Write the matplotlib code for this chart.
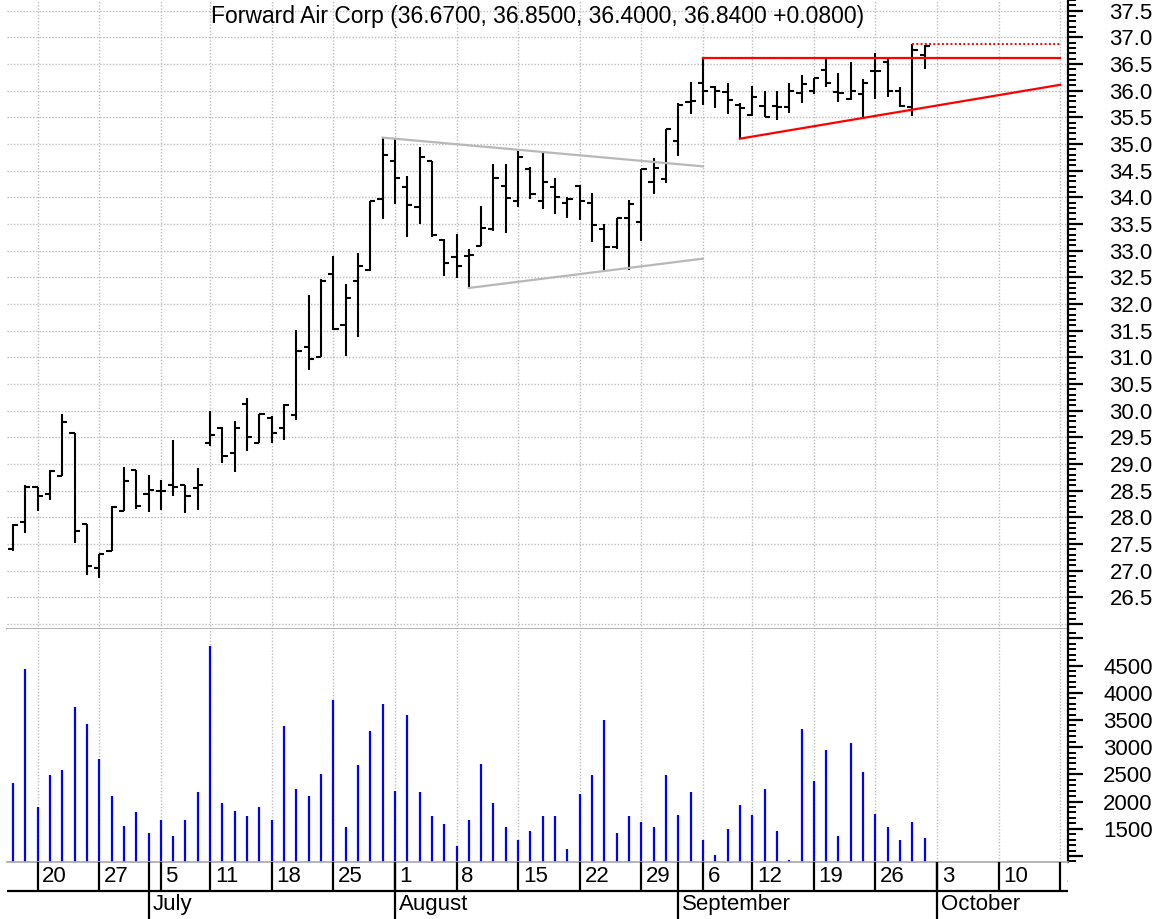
import matplotlib
matplotlib.use('Agg')
import matplotlib.pyplot as plt
import numpy as np
import pandas as pd
from matplotlib.ticker import MultipleLocator

plt.rcParams['font.family'] = ['Liberation Sans', 'DejaVu Sans']

# trading days, Jun 16 2005 .. Oct 21 2005 (no bars after Sep 30)
days = pd.bdate_range('2005-06-16', '2005-10-21', freq='C',
                      holidays=['2005-07-04', '2005-09-05'])

opens = [27.40, 27.91, 28.56, 28.43, 28.77, 29.58, 27.88, 27.05, 27.37, 28.11,
         28.89, 28.43, 28.50, 28.60, 28.60, 28.55, 29.40, 29.68, 29.20, 30.13,
         29.40, 29.86, 29.67, 29.92, 31.19, 31.00, 32.57, 31.60, 32.43, 32.64,
         33.97, 34.69, 34.20, 33.82, 34.69, 33.20, 32.89, 32.90, 33.09, 33.40,
         34.22, 33.93, 34.54, 33.93, 34.20, 33.90, 34.22, 33.89, 33.41, 33.06,
         33.61, 33.54, 34.28, 34.34, 35.06, 35.78, 36.14, 36.07, 35.97, 35.74,
         35.54, 35.72, 35.71, 35.70, 35.96, 36.00, 36.38, 35.98, 35.84, 35.94,
         36.36, 36.54, 35.99, 35.70, 36.67]
highs = [27.87, 28.60, 28.57, 28.88, 29.93, 29.58, 27.88, 27.31, 28.21, 28.95,
         28.89, 28.79, 28.69, 29.44, 28.60, 28.93, 29.99, 29.70, 29.81, 30.23,
         29.94, 29.89, 30.13, 31.51, 32.16, 32.46, 32.90, 32.37, 32.96, 33.93,
         35.14, 35.10, 34.40, 34.94, 34.69, 33.21, 33.31, 33.03, 33.83, 34.62,
         34.62, 34.87, 34.56, 34.84, 34.37, 34.00, 34.23, 34.09, 33.50, 33.62,
         33.95, 34.54, 34.73, 35.28, 35.76, 36.17, 36.61, 36.09, 36.14, 35.76,
         36.09, 35.99, 35.99, 36.14, 36.30, 36.24, 36.64, 36.33, 36.53, 36.22,
         36.71, 36.59, 36.07, 36.87, 36.85]
lows = [27.37, 27.71, 28.12, 28.33, 28.77, 27.52, 26.92, 26.87, 27.37, 28.11,
        28.16, 28.09, 28.14, 28.39, 28.08, 28.14, 29.33, 29.02, 28.85, 29.25,
        29.39, 29.39, 29.45, 29.83, 30.77, 31.00, 31.51, 31.03, 31.38, 32.62,
        33.60, 33.87, 33.26, 33.50, 33.26, 32.52, 32.49, 32.32, 33.09, 33.37,
        33.34, 33.81, 33.97, 33.78, 33.68, 33.61, 33.58, 33.16, 32.64, 33.03,
        32.64, 33.18, 34.06, 34.27, 34.78, 35.57, 35.74, 35.68, 35.57, 35.10,
        35.53, 35.51, 35.45, 35.58, 35.76, 35.94, 36.07, 35.78, 35.82, 35.50,
        35.84, 35.89, 35.70, 35.53, 36.40]
closes = [27.85, 28.56, 28.40, 28.87, 29.78, 27.75, 27.09, 27.31, 28.19, 28.68,
          28.22, 28.51, 28.50, 28.57, 28.40, 28.60, 29.55, 29.14, 29.67, 29.50,
          29.93, 29.58, 30.11, 31.11, 30.96, 32.43, 31.53, 32.12, 32.71, 33.93,
          34.79, 34.37, 33.85, 34.76, 33.29, 32.77, 32.71, 32.91, 33.43, 34.37,
          33.98, 34.75, 34.06, 34.28, 34.00, 33.96, 33.93, 33.48, 33.06, 33.61,
          33.88, 34.54, 34.55, 35.28, 35.74, 35.80, 35.99, 36.00, 35.82, 35.68,
          35.89, 35.51, 35.70, 35.99, 36.13, 36.24, 36.14, 35.95, 36.00, 36.14,
          36.36, 35.99, 35.72, 36.76, 36.84]
volumes = [2340, 4440, 1900, 2480, 2580, 3730, 3430, 2780, 2100, 1560,
           1800, 1420, 1660, 1360, 1660, 2170, 4850, 1970, 1830, 1730,
           1900, 1660, 3390, 2240, 2100, 2510, 3870, 1530, 2680, 3290,
           3800, 2200, 3590, 2170, 1730, 1590, 1180, 1660, 2690, 1970,
           1530, 1290, 1460, 1730, 1730, 1120, 2140, 2480, 3500, 1420,
           1730, 1630, 1530, 2480, 1760, 2170, 1290, 1010, 1490, 1930,
           1760, 2240, 1460, 930, 3330, 2370, 2950, 1360, 3080, 2540,
           1770, 1530, 1290, 1630, 1330]

# trend lines: (start idx, start price, end idx, end price)
gray_upper = (30, 35.12, 56, 34.58)
gray_lower = (37, 32.30, 56, 32.85)
red_rising = (59, 35.10, 85, 36.11)
red_flat_start = 56
red_dotted_start = 73

title = 'Forward Air Corp (36.6700, 36.8500, 36.4000, 36.8400 +0.0800)'

n = len(closes)
x = np.arange(n)
xlim = (-0.487, 85.63)

# week starts and month starts in trading-day index
week_idx = [i for i in range(1, len(days)) if days[i].weekday() < days[i - 1].weekday()]
month_idx = [i for i in range(1, len(days)) if days[i].month != days[i - 1].month]

W, H = 1168, 919
fig = plt.figure(figsize=(W / 100, H / 100), dpi=100)
left, width = 7 / W, 1061 / W
ax_p = fig.add_axes([left, (H - 629) / H, width, 629 / H])
ax_v = fig.add_axes([left, (H - 862) / H, width, 233 / H])
ax_d = fig.add_axes([left, 0, width, 57 / H])

grid_kw = dict(color='#bdbdbd', linestyle=(0, (1, 1.3)), linewidth=1.0)
fs = 16

for ax in (ax_p, ax_v):
    ax.set_xlim(*xlim)
    ax.set_xticks(week_idx)
    ax.tick_params(axis='x', length=0, labelbottom=False)
    ax.grid(axis='x', **grid_kw)
    ax.yaxis.tick_right()
    ax.spines['top'].set_visible(False)
    ax.spines['left'].set_visible(False)
    ax.spines['bottom'].set_color('#a8a8a8')
    ax.spines['bottom'].set_linewidth(1.2)
    ax.spines['right'].set_linewidth(1.6)
    ax.tick_params(axis='y', which='major', length=11, width=1.6, pad=50,
                   labelsize=fs, direction='out')
    ax.tick_params(axis='y', which='minor', length=5.5, width=1.4, direction='out')
    ax.set_axisbelow(True)

# price panel
ax_p.set_ylim(25.905, 37.70)
pt = np.arange(26.0, 37.51, 0.5)
ax_p.set_yticks(pt)
ax_p.set_yticklabels(['' if v < 26.2 else f'{v:.1f}' for v in pt])
ax_p.yaxis.set_minor_locator(MultipleLocator(0.1))
ax_p.grid(axis='y', which='major', **grid_kw)
for lbl in ax_p.get_yticklabels():
    lbl.set_horizontalalignment('right')

tw = 0.42
ax_p.vlines(x, lows, highs, color='black', lw=1.5)
ax_p.hlines(opens, x - tw, x, color='black', lw=1.5)
ax_p.hlines(closes, x, x + tw, color='black', lw=1.5)

for (x0, y0, x1, y1) in (gray_upper, gray_lower):
    ax_p.plot([x0, x1], [y0, y1], color='#b8b8b8', lw=1.6)
ax_p.plot([red_rising[0], red_rising[2]], [red_rising[1], red_rising[3]], color='red', lw=1.6)
ax_p.plot([red_flat_start, 85], [highs[red_flat_start]] * 2, color='red', lw=1.6)
ax_p.plot([red_dotted_start, 85], [max(highs)] * 2, color='red', lw=1.4,
          linestyle=(0, (1, 1.2)))

ax_p.text(0.5, 0.973, title, transform=ax_p.transAxes, ha='center', va='center',
          fontsize=16.5)

# volume panel
ax_v.set_ylim(890, 5171)
vt = np.arange(1000, 5001, 500)
ax_v.set_yticks(vt)
ax_v.set_yticklabels([str(v) if 1500 <= v <= 4500 else '' for v in vt])
ax_v.yaxis.set_minor_locator(MultipleLocator(100))
for lbl in ax_v.get_yticklabels():
    lbl.set_horizontalalignment('right')
ax_v.vlines(x, 890, volumes, color='#0000ff', lw=1.6)

# date axis
ax_d.set_xlim(*xlim)
ax_d.set_ylim(0, 1)
ax_d.axis('off')
row = 0.491
ax_d.axhline(row, color='black', lw=1.6)
for i in week_idx:
    ax_d.vlines(i, row, 1, color='black', lw=1.6)
    ax_d.text(i + 0.38, 0.75, str(days[i].day), ha='left', va='center',
              fontsize=fs, clip_on=True)
for i in month_idx:
    ax_d.vlines(i, 0, 1, color='black', lw=1.6)
    ax_d.text(i + 0.33, 0.25, days[i].strftime('%B'), ha='left', va='center',
              fontsize=fs, clip_on=True)

fig.savefig('out.png', dpi=100)
